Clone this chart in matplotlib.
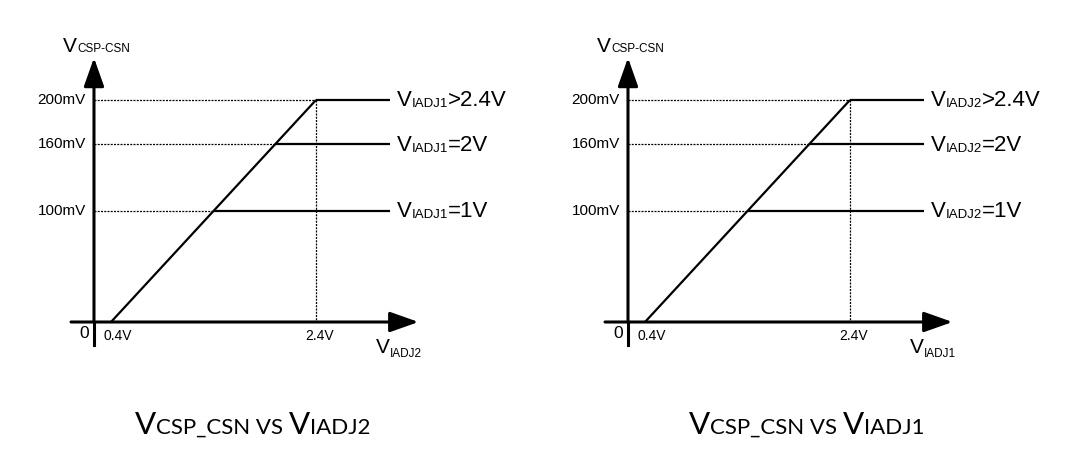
import matplotlib
matplotlib.use("Agg")
import matplotlib.pyplot as plt
from matplotlib.transforms import offset_copy
import numpy as np

plt.rcParams['font.family'] = ['Liberation Sans', 'DejaVu Sans']

# data
ramp_x = [0.4, 2.4]          # V
ramp_y = [0, 200]            # mV
levels = [100, 160, 200]     # mV
level_ticks = ['100mV', '160mV', '200mV']
level_tails = ['=1V', '=2V', '>2.4V']
x_ticks = [0.4, 2.4]
x_tick_labels = ['0.4V', '2.4V']
x_names = ['IADJ2', 'IADJ1']      # x axis of each panel
line_names = ['IADJ1', 'IADJ2']   # curves in each panel

fig = plt.figure(figsize=(10.8, 4.61), dpi=100)
renderer = fig.canvas.get_renderer()

def rich(ax, x, y, parts, ha='left', family=None):
    # parts: (text, size, dy in points)
    pieces = []
    dx = 0
    for s, size, dy in parts:
        kw = {} if family is None else {'family': family}
        t = ax.text(x, y, s, fontsize=size, va='baseline', ha='left', clip_on=False, **kw)
        w = t.get_window_extent(renderer).width * 72 / fig.dpi
        pieces.append((t, dx, dy))
        dx += w
    shift = -dx / 2 if ha == 'center' else 0
    for t, ox, oy in pieces:
        t.set_transform(offset_copy(ax.transData, fig, x=ox + shift, y=oy, units='points'))

W, H = 1080, 461
y_ax = 0.234      # where the vertical axis sits (V)
line_end = 3.12
title_x = [1.78, 1.98]
dots = (0, (1.6, 1.0))

for i in range(2):
    left = 70 + 534 * i
    ax = fig.add_axes([left / W, 105.7 / H, 369 / W, 310.8 / H])
    ax.set_xlim(0, 3.6)
    ax.set_ylim(-30, 250)
    ax.axis('off')

    # axes with arrows
    arr = dict(arrowstyle='-|>,head_length=1.75,head_width=0.62', lw=2.2, color='black',
               shrinkA=0, shrinkB=0, mutation_scale=10)
    ax.annotate('', xy=(3.40, 0), xytext=(0.01, 0), arrowprops=arr)
    ax.annotate('', xy=(y_ax, 238), xytext=(y_ax, 0), arrowprops=arr)
    ax.plot([y_ax, y_ax], [-20.7, 0], color='black', lw=2.2, clip_on=False)

    # ramp and clamp levels
    ax.plot(ramp_x, ramp_y, color='black', lw=1.6, solid_capstyle='butt')
    for lv, lab, tail in zip(levels, level_ticks, level_tails):
        xi = np.interp(lv, ramp_y, ramp_x)
        ax.plot([y_ax, xi], [lv, lv], color='black', lw=0.9, ls=dots)
        ax.plot([xi, line_end], [lv, lv], color='black', lw=1.6, solid_capstyle='butt')
        ax.text(0.156, lv, lab, fontsize=11, ha='right', va='center')
        rich(ax, 3.19, lv - 5.5, [('V', 16, 0), (line_names[i], 9.5, -1), (tail, 16, 0)])
    ax.plot([ramp_x[1], ramp_x[1]], [ramp_y[1], 0], color='black', lw=0.9, ls=dots)

    # tick labels
    ax.text(0.137, -10.8, '0', fontsize=12.5, ha='center', va='center')
    ax.text(0.33, -13, x_tick_labels[0], fontsize=10, ha='left', va='center')
    ax.text(x_ticks[1] + 0.03, -13, x_tick_labels[1], fontsize=10, ha='center', va='center')

    # axis names
    rich(ax, 2.985, -28, [('V', 15, 0), (x_names[i], 8.5, -2.5)])
    rich(ax, -0.068, 243, [('V', 15, 0), ('CSP-CSN', 8.5, 0.5)])

    # caption
    rich(ax, title_x[i], -101, [('V', 22.5, 0), ('CSP_CSN VS ', 16, 0), ('V', 22.5, 0),
                                (x_names[i], 16, 0)], ha='center', family=['Lato', 'DejaVu Sans'])

fig.savefig('out.png', dpi=100)
